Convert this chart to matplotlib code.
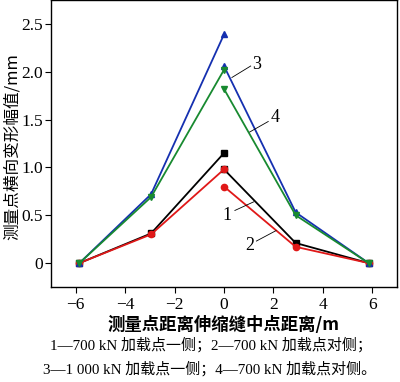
import matplotlib.pyplot as plt

plt.rcParams['font.family'] = ['Liberation Serif', 'Noto Sans CJK SC']

# left branch (up to x=0) and right branch (from x=0) of each curve
x_left = [-5.85, -2.95, 0]
x_right = [0, 2.9, 5.85]

s1_left = [0, 0.31, 1.15]    # 1: 700 kN, loading side
s1_right = [0.98, 0.21, 0]
s2_left = [0, 0.30, 0.98]    # 2: 700 kN, opposite side
s2_right = [0.80, 0.17, 0]
s3_left = [0, 0.72, 2.39]    # 3: 1000 kN, loading side
s3_right = [2.06, 0.53, 0]
s4_left = [0, 0.69, 2.02]    # 4: 700 kN, opposite side
s4_right = [1.82, 0.50, 0]

xticks = [-6, -4, -2, 0, 2, 4, 6]
yticks = [0, 0.5, 1.0, 1.5, 2.0, 2.5]
ytick_labels = ['0', '0.5', '1.0', '1.5', '2.0', '2.5']

fig = plt.figure(figsize=(4, 3.82), dpi=100)
ax = fig.add_axes([0.1275, 0.2487, 0.865, 0.7513])

series = [
    (s1_left, s1_right, 'black', 's'),
    (s2_left, s2_right, '#e01818', 'o'),
    (s3_left, s3_right, '#1530b0', '^'),
    (s4_left, s4_right, '#188a30', 'v'),
]
for yl, yr, c, m in series:
    ax.plot(x_left, yl, color=c, marker=m, markersize=4.5, lw=1.3)
    ax.plot(x_right, yr, color=c, marker=m, markersize=4.5, lw=1.3)

ax.set_xlim(-7, 7)
ax.set_ylim(-0.25, 2.75)
ax.set_xticks(xticks)
ax.set_xticklabels(['\u22126', '\u22124', '\u22122', '0', '2', '4', '6'])
ax.set_yticks(yticks)
ax.set_yticklabels(ytick_labels)
ax.tick_params(labelsize=12.5, direction='out', length=4, width=0.8)
ax.tick_params(axis='y', pad=2)
for sp in ax.spines.values():
    sp.set_linewidth(1.0)

ax.set_ylabel('测量点横向变形幅值/mm', fontsize=12,
              family=['Noto Sans CJK SC', 'Liberation Serif'])
ax.yaxis.set_label_coords(-0.088, 0.49)
ax.set_xlabel('测量点距离伸缩缝中点距离/m', fontsize=12.5, fontweight='bold',
              labelpad=2, family=['Noto Sans CJK SC', 'Liberation Serif'])

# curve numbers with leader lines
labels = ['3', '4', '1', '2']
label_xy = [(1.33, 2.08), (2.07, 1.52), (0.12, 0.50), (1.04, 0.18)]
leaders = [((0.32, 1.08), (1.94, 2.06)), ((1.04, 1.79), (1.37, 1.48)),
           ((0.44, 1.2), (0.55, 0.64)), ((1.31, 2.11), (0.23, 0.34))]
for t, (tx, ty), (lx, ly) in zip(labels, label_xy, leaders):
    ax.plot(lx, ly, color='black', lw=0.6)
    ax.text(tx, ty, t, fontsize=13, ha='center', va='center')

cap = dict(fontsize=10.8, ha='left', va='center',
           family=['Liberation Serif', 'Noto Sans CJK SC'])
fig.text(0.125, 1 - 345 / 382, '1—700 kN 加载点一侧；2—700 kN 加载点对侧；', **cap)
fig.text(0.108, 1 - 369 / 382, '3—1 000 kN 加载点一侧；4—700 kN 加载点对侧。', **cap)

fig.savefig('out.png', dpi=100)
